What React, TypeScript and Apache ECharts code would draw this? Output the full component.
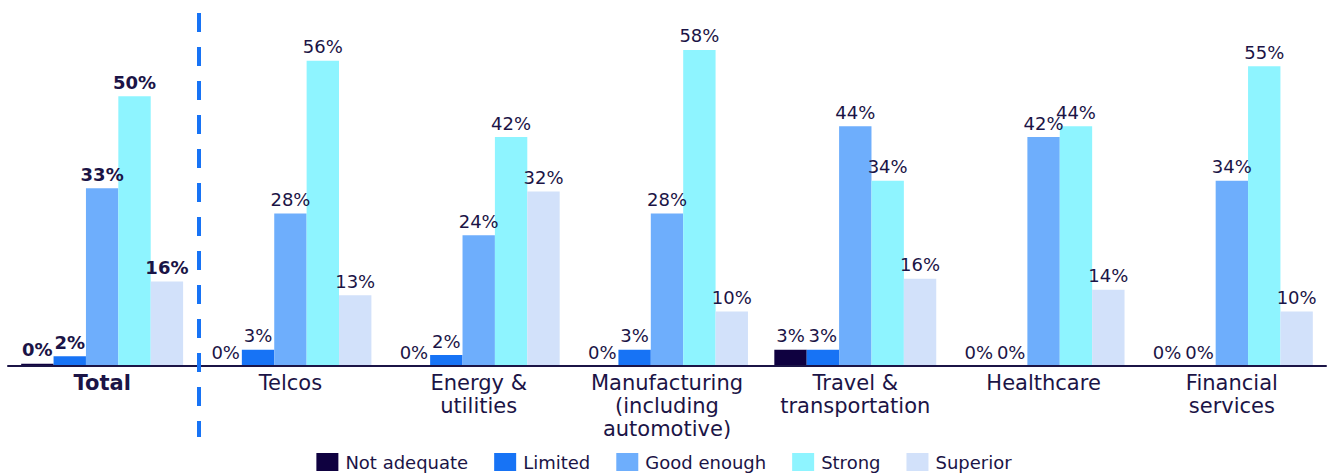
import React, { useEffect, useRef } from "react";
import * as echarts from "echarts";

const categories = [
  "Total",
  "Telcos",
  "Energy &\nutilities",
  "Manufacturing\n(including\nautomotive)",
  "Travel &\ntransportation",
  "Healthcare",
  "Financial\nservices",
];

const seriesNames = ["Not adequate", "Limited", "Good enough", "Strong", "Superior"];

const notAdequate = [0.4, 0, 0, 0, 3, 0, 0];
const limited = [1.8, 3, 2, 3, 3, 0, 0];
const goodEnough = [32.6, 28, 24, 28, 44, 42, 34];
const strong = [49.5, 56, 42, 58, 34, 44, 55];
const superior = [15.5, 13, 32, 10, 16, 14, 10];

const seriesValues = [notAdequate, limited, goodEnough, strong, superior];
const colors = ["#0f0140", "#1773f5", "#6eaefc", "#8ef4ff", "#d2e1fa"];

const TEXT = "#1b1446";
const FONT = "'DejaVu Sans', Inter, sans-serif";

export default function App() {
  const ref = useRef<HTMLDivElement>(null);

  useEffect(() => {
    if (!ref.current) return;
    const chart = echarts.init(ref.current, undefined, { renderer: "svg" });
    chart.setOption({
      animation: false,
      textStyle: { fontFamily: FONT, color: TEXT },
      grid: { left: 8, right: 2, top: 39, bottom: 108, containLabel: false },
      legend: {
        top: 452,
        left: "center",
        itemWidth: 22,
        itemHeight: 18,
        itemGap: 26,
        icon: "rect",
        padding: 0,
        textStyle: {
          fontSize: 18,
          lineHeight: 20,
          color: TEXT,
          fontFamily: FONT,
          padding: [0, 0, 0, 2],
        },
        data: seriesNames,
      },
      xAxis: {
        type: "category",
        data: categories.map((c, i) =>
          i === 0 ? { value: c, textStyle: { fontWeight: "bold" } } : c
        ),
        axisLine: { lineStyle: { color: TEXT, width: 2 }, z: 5 },
        axisTick: { show: false },
        z: 5,
        axisLabel: {
          color: TEXT,
          fontSize: 21,
          lineHeight: 23,
          margin: 5,
          interval: 0,
          fontFamily: FONT,
        },
      },
      yAxis: {
        type: "value",
        min: 0,
        max: 60,
        show: false,
        splitLine: { show: false },
      },
      graphic: [
        {
          type: "line",
          shape: { x1: 199, y1: 13, x2: 199, y2: 437 },
          style: { stroke: "#1773f5", lineWidth: 4, lineDash: [19, 15] },
          z: 10,
        },
      ],
      series: seriesNames.map((name, si) => ({
        name,
        type: "bar",
        barGap: "0%",
        barCategoryGap: "14%",
        itemStyle: { color: colors[si] },
        label: {
          show: true,
          position: "top",
          distance: 5,
          color: TEXT,
          fontSize: 18,
          fontFamily: FONT,
          formatter: (p: any) => `${Math.round(p.value)}%`,
        },
        data: seriesValues[si].map((v, ci) =>
          ci === 0 ? { value: v, label: { fontWeight: "bold" } } : v
        ),
      })),
    });
    return () => chart.dispose();
  }, []);

  return (
    <div
      ref={ref}
      style={{ position: "absolute", left: 0, top: 0, width: 1328, height: 474 }}
    />
  );
}
